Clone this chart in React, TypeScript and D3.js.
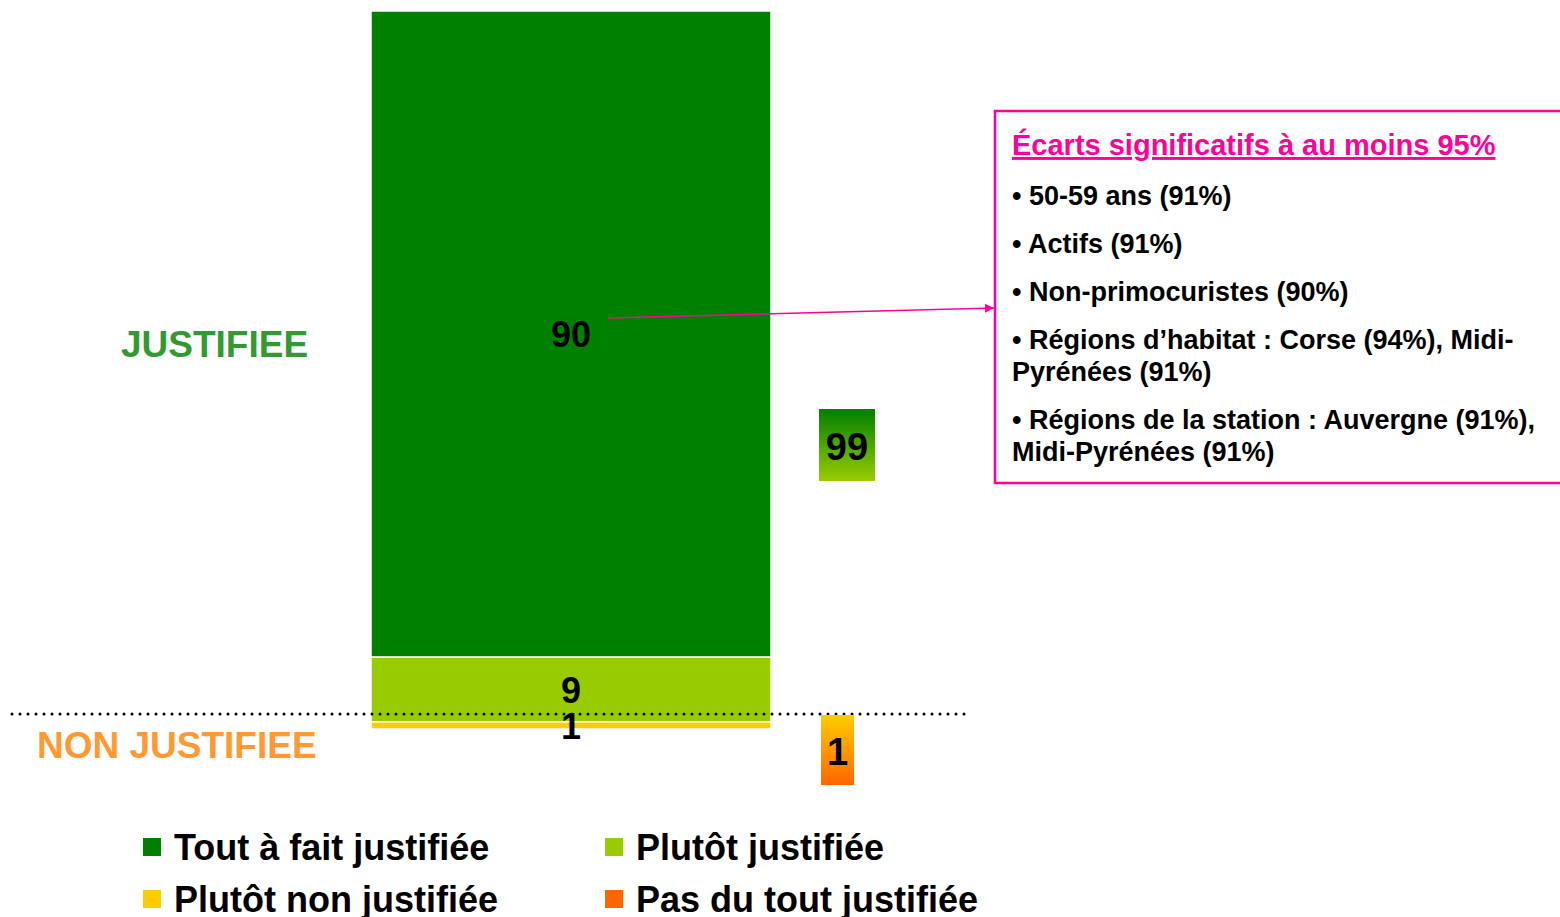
import React from "react";
import { scaleLinear, scaleBand, stack } from "d3";

// data
const categories = ["Tout à fait justifiée", "Plutôt justifiée", "Plutôt non justifiée", "Pas du tout justifiée"];
const values = [90, 9, 1, 0];
const colors = ["#008000", "#99cc00", "#ffcc00", "#ff6600"];
const groupLabels = ["JUSTIFIEE", "NON JUSTIFIEE"];
const groupTotals = [99, 1];
const noteTitle = "Écarts significatifs à au moins 95%";
const noteItems = [
  ["• 50-59 ans (91%)"],
  ["• Actifs (91%)"],
  ["• Non-primocuristes (90%)"],
  ["• Régions d’habitat : Corse (94%), Midi-", "Pyrénées (91%)"],
  ["• Régions de la station : Auvergne (91%),", "Midi-Pyrénées (91%)"],
];

const W = 1560;
const H = 917;
const font = "Arial, 'Liberation Sans', sans-serif";
const pink = "#ff0099";

export default function App() {
  const row: any = {};
  categories.forEach((c, i) => (row[c] = values[i]));
  const series = stack().keys(categories)([row]);

  const x = scaleBand().domain(["Ensemble"]).range([371, 771]).padding(0);
  // stacked from the top down: first category on top
  const y = scaleLinear().domain([0, 100]).range([11, 729]);
  const cx = (x("Ensemble") as number) + x.bandwidth() / 2;

  // note lines layout
  let lineY = 205;
  const noteLines: { text: string; y: number }[] = [];
  noteItems.forEach((item) => {
    item.forEach((t, j) => {
      noteLines.push({ text: t, y: lineY + j * 32 });
    });
    lineY += (item.length - 1) * 32 + 48;
  });

  return (
    <div style={{ position: "absolute", left: 0, top: 0 }}>
      <svg width={W} height={H} style={{ display: "block", fontFamily: font }}>
        <defs>
          <linearGradient id="gJust" x1="0" y1="0" x2="0" y2="1">
            <stop offset="0%" stopColor={colors[0]} />
            <stop offset="100%" stopColor={colors[1]} />
          </linearGradient>
          <linearGradient id="gNon" x1="0" y1="0" x2="0" y2="1">
            <stop offset="0%" stopColor={colors[2]} />
            <stop offset="100%" stopColor={colors[3]} />
          </linearGradient>
          <marker id="arrow" viewBox="0 0 10 10" refX="10" refY="5" markerWidth="9" markerHeight="9" orient="auto" markerUnits="userSpaceOnUse">
            <path d="M0,0 L10,5 L0,10 z" fill={pink} />
          </marker>
        </defs>

        {/* stacked bar */}
        {series.map((s, i) => {
          const d = s[0];
          if (d[1] - d[0] <= 0) return null;
          const yTop = y(d[0]);
          const yBot = y(d[1]);
          return (
            <rect
              key={categories[i]}
              x={x("Ensemble")}
              width={x.bandwidth()}
              y={yTop}
              height={yBot - yTop}
              fill={colors[i]}
              stroke="#ffffff"
              strokeWidth={1.5}
            />
          );
        })}

        {/* separator */}
        <line x1={12} x2={968} y1={714} y2={714} stroke="#000" strokeWidth={3} strokeLinecap="round" strokeDasharray="0 8" />

        {/* segment labels */}
        {series.map((s, i) => {
          const d = s[0];
          if (d[1] - d[0] <= 0) return null;
          const mid = (y(d[0]) + y(d[1])) / 2;
          return (
            <text key={"l" + i} x={cx} y={mid + (i === 2 ? 14 : 13)} textAnchor="middle" fontSize={36} fontWeight="bold" fill="#000">
              {values[i]}
            </text>
          );
        })}

        {/* group labels */}
        <text x={121} y={357} fontSize={37} fontWeight="bold" fill="#339933">{groupLabels[0]}</text>
        <text x={37} y={758} fontSize={37} fontWeight="bold" fill="#ff9933">{groupLabels[1]}</text>

        {/* totals */}
        <rect x={819} y={409} width={56} height={72} fill="url(#gJust)" />
        <text x={847} y={460} textAnchor="middle" fontSize={38} fontWeight="bold" fill="#000">{groupTotals[0]}</text>
        <rect x={821} y={715} width={33} height={70} fill="url(#gNon)" />
        <text x={837.5} y={765} textAnchor="middle" fontSize={38} fontWeight="bold" fill="#000">{groupTotals[1]}</text>

        {/* arrow to note */}
        <line x1={608} y1={318} x2={994} y2={308} stroke={pink} strokeWidth={1.5} markerEnd="url(#arrow)" />

        {/* note box */}
        <rect x={995} y={111} width={620} height={372} fill="none" stroke={pink} strokeWidth={2.5} />
        <text x={1012} y={155} fontSize={29} fontWeight="bold" fill={pink} textDecoration="underline">{noteTitle}</text>
        {noteLines.map((l, i) => (
          <text key={"n" + i} x={1012} y={l.y} fontSize={27} fontWeight="bold" fill="#000">{l.text}</text>
        ))}

        {/* legend */}
        {categories.map((c, i) => {
          const lx = i % 2 === 0 ? 143 : 605;
          const ly = i < 2 ? 838 : 890;
          return (
            <g key={"leg" + i}>
              <rect x={lx} y={ly} width={18} height={18} fill={colors[i]} />
              <text x={lx + 31} y={ly + 22} fontSize={36} fontWeight="bold" fill="#000">{c}</text>
            </g>
          );
        })}
      </svg>
    </div>
  );
}
